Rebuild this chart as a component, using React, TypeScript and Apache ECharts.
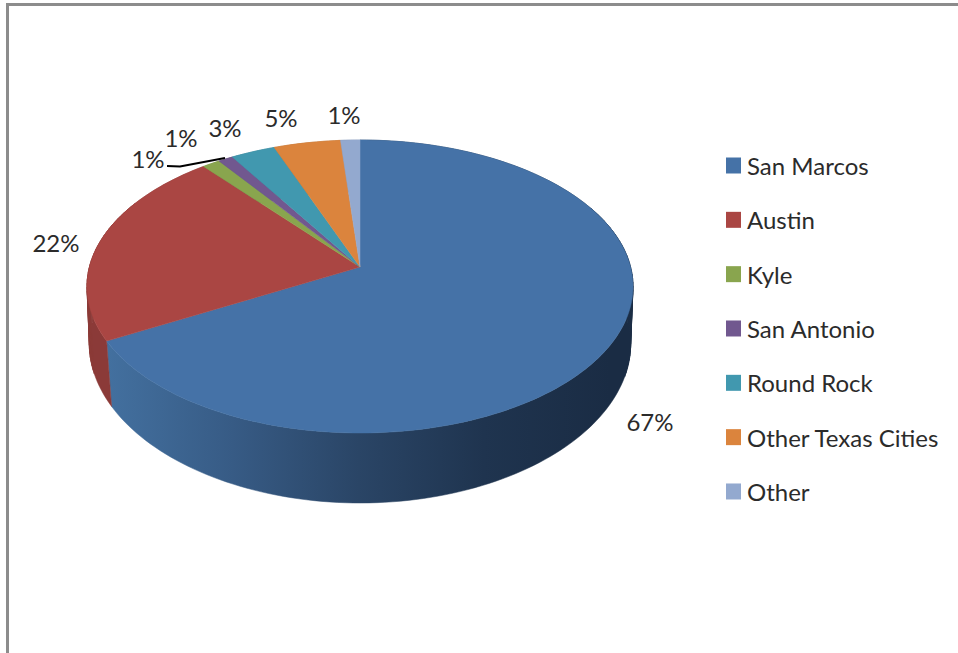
import React, { useEffect, useRef } from "react";
import * as echarts from "echarts";

const categories = ["San Marcos", "Austin", "Kyle", "San Antonio", "Round Rock", "Other Texas Cities", "Other"];
const shares = [67, 22, 1.2, 1, 3, 4.5, 1.3];
const colors = ["#4572A7", "#AA4643", "#89A54E", "#71588F", "#4198AF", "#DB843D", "#93A9CF"];
const wallColors = ["#2f4f75", "#8b3a38", "#6f853f", "#5b4773", "#34798d", "#b06a31", "#7688a6"];
const labelCenters = [[650, 421], [56, 242], [148, 158], [181, 137], [225, 127], [281, 117], [344, 114]];

const FONT = "Lato";
const CX = 360, APEX_Y = 267, RADIUS = 270.6, PERSP = -0.133, SQUASH = 108.4;

type Pt = { x: number; y: number; v: number };

function rim(deg: number): Pt {
  const t = (deg * Math.PI) / 180;
  const u = Math.sin(t), v = -Math.cos(t);
  const den = 1 + PERSP * v;
  return { x: CX + (RADIUS * u) / den, y: (SQUASH * v + APEX_Y) / den, v };
}

function arcPoints(a: number, b: number) {
  const n = Math.max(2, Math.ceil((b - a) / 1.5));
  const pts: Pt[] = [];
  for (let i = 0; i <= n; i++) pts.push(rim(a + ((b - a) * i) / n));
  return pts;
}

const wallBottom = (p: Pt) => {
  const s = 0.995 - 0.03 * Math.max(0, p.v);
  return [CX + (p.x - CX) * s, p.y + 61 + 9 * p.v];
};

const blueWall = new echarts.graphic.LinearGradient(
  107, 0, 610, 0,
  [
    { offset: 0, color: "#43709f" },
    { offset: 0.25, color: "#375b85" },
    { offset: 0.5, color: "#2a4566" },
    { offset: 0.75, color: "#1f344f" },
    { offset: 1, color: "#1a2c44" },
  ],
  true
);

function makeSeries(index: number) {
  const total = shares.reduce((s, x) => s + x, 0);
  return {
    type: "custom",
    name: categories[index],
    coordinateSystem: "none",
    itemStyle: { color: colors[index] },
    data: [[shares[index]]],
    silent: true,
    renderItem: (_params: any, api: any) => {
      const before = shares.slice(0, index).reduce((s, x) => s + x, 0);
      const start = (before / total) * 360;
      const end = start + (api.value(0) / total) * 360;
      const arc = arcPoints(start, end);
      const topPts = [[CX, APEX_Y], ...arc.map((p) => [p.x, p.y])];
      const bandPts = [...arc.map((p) => [p.x, p.y]), ...arc.slice().reverse().map(wallBottom)];
      const wallFill = index === 0 ? blueWall : wallColors[index];
      const [lx, ly] = labelCenters[index];
      const children: any[] = [
        {
          type: "polygon",
          z2: 1,
          shape: { points: bandPts },
          style: { fill: wallFill, stroke: wallFill, lineWidth: 0.5 },
        },
      ];
      // The wall's silhouette at the far left and right of the disc.
      for (let i = 0; i + 1 < arc.length; i++) {
        const a = arc[i], b = arc[i + 1];
        if (Math.abs(a.v) > 0.45 || a.v > 0.3) continue;
        children.push({
          type: "polygon",
          z2: 2,
          shape: { points: [[a.x, a.y], [b.x, b.y], wallBottom(b), wallBottom(a)] },
          style: { fill: wallFill, stroke: wallFill, lineWidth: 0.6 },
        });
      }
      children.push(
        {
          type: "polygon",
          z2: 5,
          shape: { points: topPts },
          style: { fill: colors[index], stroke: colors[index], lineWidth: 0.5 },
        },
        {
          type: "text",
          z2: 10,
          style: {
            x: lx,
            y: ly,
            text: `${Math.round((api.value(0) / total) * 100)}%`,
            fontFamily: FONT,
            fontSize: 24,
            fill: "#2b2b2b",
            align: "center",
            verticalAlign: "middle",
          },
        }
      );
      if (categories[index] === "San Antonio") {
        children.push({
          type: "polyline",
          z2: 9,
          shape: { points: [[167, 166], [180, 166.5], [225, 158]] },
          style: { stroke: "#000000", lineWidth: 2.2, fill: "none" },
        });
      }
      return { type: "group", children };
    },
  };
}

export default function App() {
  const ref = useRef<HTMLDivElement>(null);
  useEffect(() => {
    const chart = echarts.init(ref.current!, undefined, { renderer: "svg" });
    chart.setOption({
      animation: false,
      backgroundColor: "#ffffff",
      legend: {
        orient: "vertical",
        left: 721,
        top: 148.5,
        icon: "rect",
        itemWidth: 15,
        itemHeight: 16,
        itemGap: 30.33,
        data: categories,
        selectedMode: false,
        textStyle: { fontFamily: FONT, fontSize: 24, color: "#2b2b2b", lineHeight: 24, padding: [0, 0, 0, 1] },
      },
      graphic: [
        { type: "rect", shape: { x: 6, y: 3, width: 952, height: 3 }, style: { fill: "#8c8c8c" }, silent: true },
        { type: "rect", shape: { x: 6, y: 3, width: 3, height: 650 }, style: { fill: "#8c8c8c" }, silent: true },
      ],
      series: categories.map((_, i) => makeSeries(i)),
    });
    return () => chart.dispose();
  }, []);
  return <div ref={ref} style={{ position: "absolute", left: 0, top: 0, width: 958, height: 653 }} />;
}
